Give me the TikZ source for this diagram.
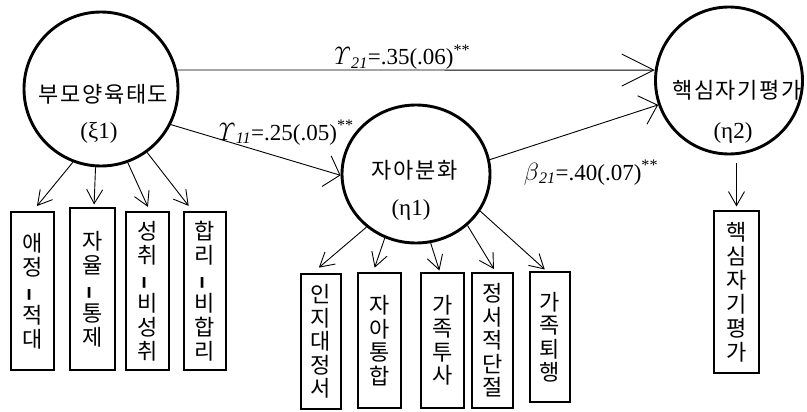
\documentclass[tikz,border=0pt]{standalone}
\usepackage[no-math]{fontspec}
\setmainfont{Liberation Serif}
\newfontfamily\kr[LetterSpace=7]{Noto Sans CJK KR}
\newfontfamily\krv{Noto Sans CJK KR}
\usetikzlibrary{arrows.meta,shapes.geometric,calc}
\newcommand{\vdashmark}{\rotatebox[origin=c]{90}{\fontsize{24}{24}\selectfont\bfseries –}}
\begin{document}
\begin{tikzpicture}[x=1pt,y=-1pt,
  latent/.style={draw, line width=2.9pt, inner sep=0pt},
  krt/.style={font=\kr\fontsize{22}{24}\selectfont, inner sep=0pt},
  ltt/.style={font=\fontsize{23}{26}\selectfont, inner sep=0pt},
  ind/.style={draw, line width=1.1pt, inner sep=0pt, align=center},
  indA/.style={ind, font=\krv\fontsize{22}{24}\selectfont},
  indB/.style={ind, font=\krv\fontsize{22}{23.5}\selectfont},
  con/.style={line width=0.9pt},
  bigarr/.style={con, -{Straight Barb[length=32pt,width=32pt]}},
  midarr/.style={con, -{Straight Barb[length=14pt,width=32pt]}},
  rarr/.style={con, -{Straight Barb[length=16pt,width=30pt]}},
  smarr/.style={con, -{Straight Barb[length=14pt,width=16pt]}},
]
\useasboundingbox (0,0) rectangle (807,412);

% latent variables
\node[latent, circle, minimum size=154pt] (xi) at (101,89) {};
\node[latent, ellipse, minimum width=148pt, minimum height=138pt] (eta1) at (416,174) {};
\node[latent, circle, minimum size=147pt] (eta2) at (729,80.5) {};

\node[krt] (xitxt) at (103.5,94) {부모양육태도};
\node[ltt] (xisym) at (99,133) {(ξ1)};
\node[krt] (e1txt) at (414.5,170) {자아분화};
\node[ltt] (e1sym) at (411,210) {(η1)};
\node[krt] (e2txt) at (737,90) {핵심자기평가};
\node[ltt] (e2sym) at (733,133) {(η2)};

% structural paths
\draw[bigarr] (xi.14) -- (eta2.172);
\draw[midarr] (xi.-27) -- (eta1.181);
\draw[rarr] (eta1.11) -- (eta2.-161);

\node[ltt, anchor=base] (g21) at (400,65) {$\mathit{\Upsilon}$\textsubscript{\itshape 21}=.35(.06)\textsuperscript{**}};
\node[ltt, anchor=base] (g11) at (284,140) {$\mathit{\Upsilon}$\textsubscript{\itshape 11}=.25(.05)\textsuperscript{**}};
\node[ltt, anchor=base] (b21) at (591,180) {$\beta$\textsubscript{\itshape 21}=.40(.07)\textsuperscript{**}};

% indicators of xi1
\node[indA, minimum width=43pt, minimum height=158pt] (x1) at (32.5,291) {애\\정\\\vdashmark\\적\\대};
\node[indA, minimum width=45pt, minimum height=162pt] (x2) at (92.5,289) {자\\율\\\vdashmark\\통\\제};
\node[indA, minimum width=43pt, minimum height=158pt] (x3) at (147.5,291) {성\\취\\\vdashmark\\비\\성\\취};
\node[indA, minimum width=42pt, minimum height=158pt] (x4) at (205,291) {합\\리\\\vdashmark\\비\\합\\리};

\draw[smarr, shorten >=7pt] (xi.-111) -- (x1.north);
\draw[smarr, shorten >=3pt] (xi.-94) -- ([xshift=1.5pt]x2.north);
\draw[smarr, shorten >=5pt] (xi.-70) -- ([xshift=2.5pt]x3.north);
\draw[smarr, shorten >=7pt] (xi.-54) -- ([xshift=-12pt]x4.north);

% indicators of eta1
\node[indB, minimum width=40pt, minimum height=135pt] (y1) at (321,341.5) {인\\지\\대\\정\\서};
\node[indB, minimum width=43pt, minimum height=135pt] (y2) at (379.5,340.5) {자\\아\\통\\합};
\node[indB, minimum width=43pt, minimum height=135pt] (y3) at (442.5,340.5) {가\\족\\투\\사};
\node[indB, minimum width=41pt, minimum height=135pt] (y4) at (492.5,340.5) {정\\서\\적\\단\\절};
\node[indB, minimum width=40pt, minimum height=130pt] (y5) at (550,337) {가\\족\\퇴\\행};

\draw[smarr, shorten >=9pt] (eta1.-133) -- ([xshift=-9pt]y1.north);
\draw[smarr, shorten >=5pt] (eta1.-116) -- ([xshift=-6.5pt]y2.north);
\draw[smarr, shorten >=2pt] (eta1.-78) -- ([xshift=-2.5pt]y3.north);
\draw[smarr, shorten >=4pt] (eta1.-45) -- ([xshift=3.5pt]y4.north);
\draw[smarr, shorten >=3pt] (eta1.-30) -- ([xshift=-3pt]y5.north);

% indicator of eta2
\node[indA, minimum width=45pt, minimum height=162pt] (z1) at (736.5,292) {핵\\심\\자\\기\\평\\가};
\draw[smarr, shorten <=8pt, shorten >=4pt] (z1.north |- eta2.south) -- (z1.north);
\end{tikzpicture}
\end{document}
